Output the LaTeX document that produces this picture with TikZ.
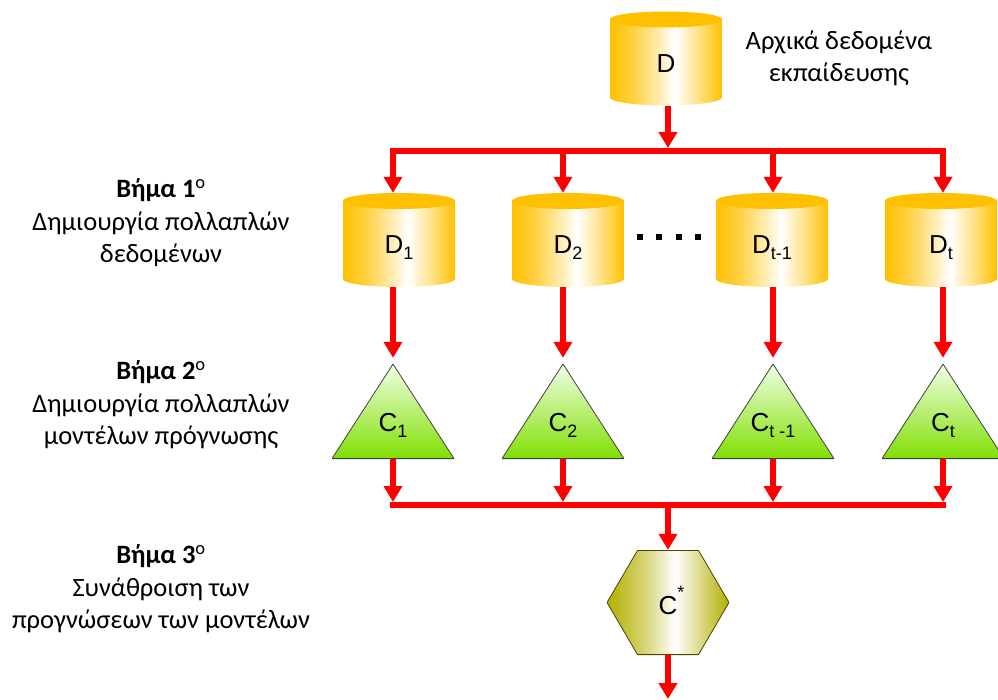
\documentclass[tikz,border=0pt]{standalone}
\usepackage{fontspec}
\setmainfont{Carlito}
\newfontfamily\shapefont{Liberation Sans}
\usetikzlibrary{arrows.meta,positioning}

\definecolor{dbgold}{HTML}{FFC000}
\definecolor{mdgreen}{HTML}{80DF00}
\definecolor{mdlight}{HTML}{F0FFE6}
\definecolor{aggolive}{HTML}{B3AF00}
\definecolor{flowred}{HTML}{FF0000}

\pgfdeclarehorizontalshading{dbbody}{100bp}{color(0bp)=(dbgold); color(25bp)=(dbgold); color(35bp)=(dbgold!75!white); color(47bp)=(dbgold!30!white); color(54bp)=(white); color(63bp)=(dbgold!40!white); color(75bp)=(dbgold); color(100bp)=(dbgold)}
\pgfdeclarehorizontalshading{aggbody}{100bp}{color(0bp)=(aggolive); color(25bp)=(aggolive); color(40bp)=(aggolive!55!white); color(53bp)=(white); color(65bp)=(aggolive!55!white); color(75bp)=(aggolive); color(100bp)=(aggolive)}

\newcommand{\lowidx}[1]{\raisebox{-6pt}{\fontsize{18}{18}\selectfont#1}}

\tikzset{
  datacyl/.style={minimum width=112pt, minimum height=94pt, inner sep=0pt,
    font=\shapefont\fontsize{26}{26}\selectfont, text height=27pt, text depth=0pt,
    path picture={
      \shade[shading=dbbody] ([yshift=8pt]path picture bounding box.south west)
        arc[start angle=180, end angle=360, x radius=56pt, y radius=8pt]
        -- ([yshift=-8pt]path picture bounding box.north east)
        arc[start angle=0, end angle=180, x radius=56pt, y radius=8pt] -- cycle;
      \fill[dbgold] ([yshift=-8pt]path picture bounding box.north) ellipse[x radius=56pt, y radius=8pt];
    }},
  model/.style={minimum width=122pt, minimum height=95pt, inner sep=0pt,
    font=\shapefont\fontsize{26}{26}\selectfont, text height=40pt, text depth=0pt,
    path picture={
      \shade[top color=mdlight, bottom color=mdgreen, draw=black!75, line width=0.8pt]
        ([yshift=0.4pt]path picture bounding box.south west) -- (path picture bounding box.north)
        -- ([yshift=0.4pt]path picture bounding box.south east) -- cycle;
    }},
  agg/.style={minimum width=122pt, minimum height=105pt, inner sep=0pt,
    font=\shapefont\fontsize{26}{26}\selectfont, text height=24pt, text depth=0pt,
    path picture={
      \shade[shading=aggbody, draw=black!60!aggolive, line width=0.8pt]
        (path picture bounding box.west)
        -- ([xshift=30.5pt, yshift=-0.4pt]path picture bounding box.north west)
        -- ([xshift=-30.5pt, yshift=-0.4pt]path picture bounding box.north east)
        -- (path picture bounding box.east)
        -- ([xshift=-30.5pt, yshift=0.4pt]path picture bounding box.south east)
        -- ([xshift=30.5pt, yshift=0.4pt]path picture bounding box.south west) -- cycle;
    }},
  steptext/.style={align=center, font=\fontsize{26.5}{32.5}\selectfont},
  bus/.style={draw=flowred, line width=6pt, line cap=rect},
  flow/.style={draw=flowred, line width=6pt, -{Triangle[width=18pt,length=16pt]}},
}

\begin{document}
\begin{tikzpicture}[x=1pt, y=1pt]
\useasboundingbox (0,0) rectangle (998,-699);
% source data
\node[datacyl] (d0) at (666,-58.5) {D};
\node[steptext, right=20pt of d0] (dinfo) {Αρχικά δεδομένα\\εκπαίδευσης};
\coordinate (j0) at (668,-151);
% bootstrap samples and base models
\foreach \i/\cx/\mx/\dsub/\csub in {1/399/393/1/1, 2/568/563/2/2, 3/772/773/t-1/t -1, 4/941/943/t/t} {
  \node[datacyl] (d\i) at (\cx,-240) {D\lowidx{\dsub}};
  \node[model] (c\i) at (\mx,-411.5) {C\lowidx{\csub}};
  \coordinate (j\i) at (\mx,-151);
  \coordinate (k\i) at (\mx,-505);
}
\foreach \x in {640,659,679,698} \fill (\x-3,-240) rectangle +(6,6);
% aggregation
\coordinate (k0) at (668,-505);
\node[agg] (c0) at (668,-602.5) {C\rlap{\raisebox{16pt}{\fontsize{18}{18}\selectfont*}}};
\coordinate (out) at (668,-699);
% steps
\node[steptext] (step1) at (161,-223) {\textbf{Βήμα 1}\textsuperscript{o}\\Δημιουργία πολλαπλών\\δεδομένων};
\node[steptext] (step2) at (161,-405) {\textbf{Βήμα 2}\textsuperscript{o}\\Δημιουργία πολλαπλών\\μοντέλων πρόγνωσης};
\node[steptext] (step3) at (161,-589) {\textbf{Βήμα 3}\textsuperscript{o}\\Συνάθροιση των\\προγνώσεων των μοντέλων};
% connectors
\draw[flow, shorten >=3pt] (j0 |- d0.south) -- (j0);
\draw[bus] (j1) -- (j4);
\foreach \i in {1,...,4} {
  \draw[flow] (j\i) -- (j\i |- d\i.north);
  \draw[flow, shorten >=6pt] (j\i |- d\i.south) -- (c\i.north);
  \draw[flow, shorten >=3pt] (c\i.south) -- (k\i);
}
\draw[bus] (k1) -- (k4);
\draw[flow] (k0) -- (c0.north);
\draw[flow] (c0.south) -- (out);
\end{tikzpicture}
\end{document}
